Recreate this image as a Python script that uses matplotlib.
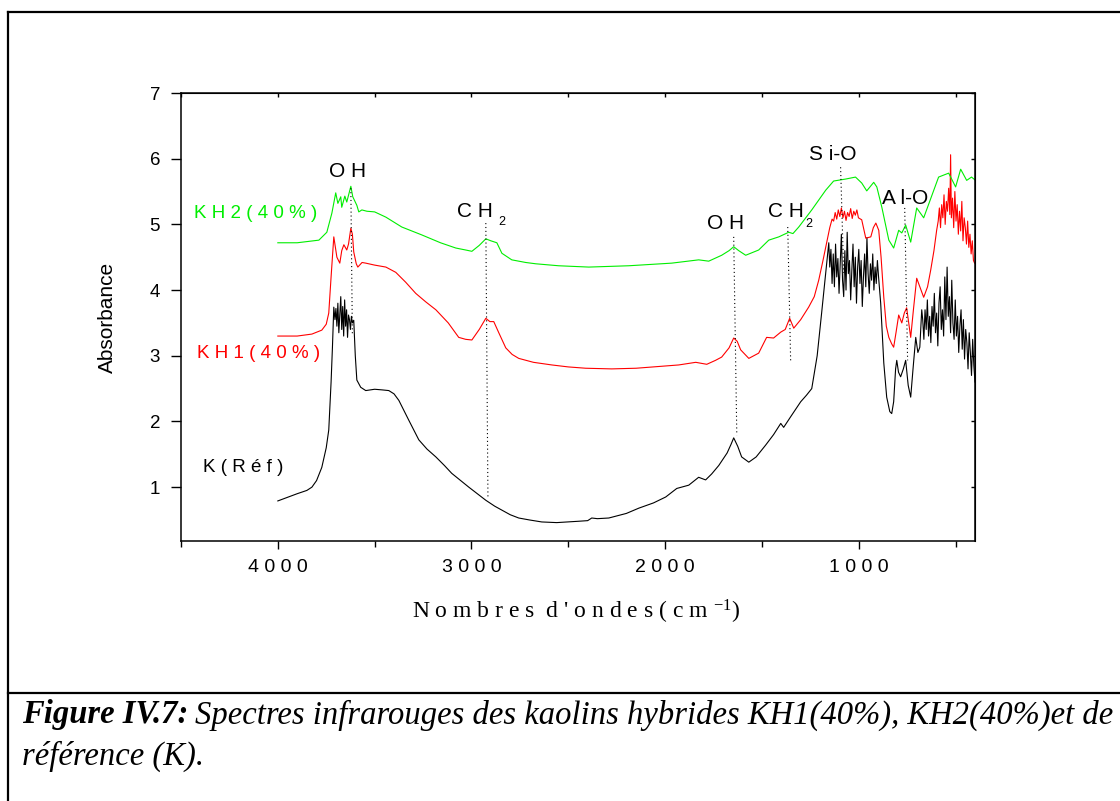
# ir_spectra_kaolin.py
# Spectres IR : K(Réf), KH1(40%), KH2(40%)
#
# valeurs (absorbance vs nombre d'onde)

import matplotlib
matplotlib.use("Agg")
import matplotlib.pyplot as plt
from matplotlib.lines import Line2D
from matplotlib.ticker import MultipleLocator


# ------------------------------------------------------------
# Fonts
# ------------------------------------------------------------

SANS = "Liberation Sans"
SERIF = "Liberation Serif"

plt.rcParams["font.family"] = [SANS, "DejaVu Sans"]
plt.rcParams["mathtext.fontset"] = "custom"
plt.rcParams["mathtext.rm"] = SERIF
plt.rcParams["mathtext.it"] = SERIF + ":italic"


# ------------------------------------------------------------
# Data : K (Réf)
# ------------------------------------------------------------

k_wn = [4000, 3900, 3850, 3824, 3800, 3773, 3750, 3737, 3725, 3718,
        3711, 3705, 3700, 3695, 3690, 3685, 3680, 3675, 3670, 3665,
        3660, 3655, 3650, 3645, 3640, 3635, 3630, 3625, 3620, 3615,
        3608, 3600, 3592, 3572, 3546, 3500, 3460, 3427, 3400, 3375,
        3324, 3272, 3230, 3184, 3140, 3102, 3060, 3014, 2970, 2926,
        2880, 2843, 2800, 2756, 2700, 2637, 2560, 2500, 2450, 2400,
        2379, 2350, 2291, 2200, 2136, 2060, 1997, 1940, 1878, 1827,
        1791, 1760, 1723, 1680, 1660, 1646, 1625, 1605, 1568, 1530,
        1481, 1440, 1403, 1388, 1350, 1300, 1270, 1243, 1215, 1192,
        1171, 1155]
k_abs = [0.79, 0.90, 0.95, 1.00, 1.10, 1.30, 1.60, 1.87, 2.60, 3.13,
         3.74, 3.55, 3.72, 3.45, 3.80, 3.35, 3.62, 3.90, 3.40, 3.75,
         3.30, 3.85, 3.45, 3.70, 3.28, 3.62, 3.55, 3.40, 3.60, 3.50,
         3.54, 3.00, 2.63, 2.52, 2.47, 2.49, 2.48, 2.47, 2.42, 2.32,
         2.02, 1.72, 1.58, 1.46, 1.33, 1.21, 1.11, 1.00, 0.90, 0.80,
         0.71, 0.65, 0.58, 0.53, 0.50, 0.47, 0.46, 0.47, 0.48, 0.49,
         0.53, 0.52, 0.53, 0.60, 0.68, 0.76, 0.85, 0.98, 1.03, 1.15,
         1.11, 1.20, 1.33, 1.52, 1.65, 1.75, 1.62, 1.46, 1.38, 1.46,
         1.64, 1.80, 1.97, 1.91, 2.08, 2.30, 2.40, 2.50, 3.00, 3.65,
         4.26, 4.72]

# bande Si-O bruitée
k_wn_sio = [1150, 1144, 1138, 1132, 1126, 1120, 1114, 1108, 1102, 1096,
            1090, 1084, 1078, 1072, 1066, 1060, 1054, 1048, 1042, 1036,
            1030, 1024, 1018, 1012, 1006, 1000, 994, 988, 982, 976,
            970, 964, 958, 952, 946, 940, 934, 928, 922, 916,
            910, 904, 898]
k_abs_sio = [4.35, 4.62, 4.10, 4.55, 4.05, 4.70, 4.20, 4.48, 3.95, 4.40,
             4.85, 4.15, 3.90, 4.60, 4.00, 4.88, 4.25, 4.45, 3.85, 4.30,
             4.70, 4.05, 4.50, 3.80, 4.35, 4.62, 4.10, 4.45, 3.75, 4.20,
             4.55, 4.05, 4.80, 4.25, 3.95, 4.40, 4.15, 4.55, 4.00, 4.35,
             4.10, 4.45, 4.20]

k_wn_alo = [887, 871, 856, 840, 830, 820, 810, 804, 795, 784,
            770, 758, 745, 732, 720, 706, 695, 685, 675]
k_abs_alo = [3.80, 2.89, 2.37, 2.15, 2.12, 2.30, 2.80, 2.93, 2.75, 2.68,
             2.80, 2.93, 2.55, 2.37, 2.80, 3.28, 3.05, 3.13, 3.70]

k_wn_low = [670, 664, 658, 652, 646, 640, 634, 628, 622, 616,
            610, 604, 598, 592, 586, 580, 574, 568, 562, 556,
            550, 544, 538, 532, 526, 520, 514, 508, 502, 496,
            490, 484, 478, 472, 466, 460, 454, 448, 442, 436,
            430, 424, 418, 412, 406, 400]
k_abs_low = [3.55, 3.25, 3.70, 3.40, 3.85, 3.30, 3.60, 3.20, 3.75, 3.45,
             3.95, 3.35, 3.65, 3.15, 3.80, 4.05, 3.40, 3.70, 3.30, 4.20,
             3.55, 4.35, 3.60, 3.90, 3.35, 4.15, 3.50, 3.25, 3.85, 3.30,
             3.60, 3.05, 3.45, 3.70, 3.10, 3.55, 2.95, 3.40, 3.20, 2.80,
             3.35, 3.05, 2.70, 3.25, 2.85, 2.60]


# ------------------------------------------------------------
# Data : KH1 (40%)
# ------------------------------------------------------------

kh1_wn = [4000, 3900, 3824, 3773, 3750, 3737, 3725, 3711, 3695, 3680,
          3670, 3659, 3644, 3635, 3623, 3615, 3608, 3595, 3587, 3565,
          3546, 3500, 3442, 3391, 3340, 3288, 3236, 3184, 3120, 3066,
          3030, 2998, 2960, 2926, 2905, 2885, 2859, 2823, 2790, 2756,
          2680, 2585, 2500, 2410, 2276, 2150, 2018, 1930, 1842, 1785,
          1740, 1708, 1670, 1646, 1628, 1610, 1568, 1517, 1476, 1440,
          1403, 1380, 1357, 1336, 1300, 1259, 1230, 1207, 1185, 1166,
          1150, 1138]
kh1_abs = [3.30, 3.30, 3.33, 3.39, 3.48, 3.65, 4.20, 4.81, 4.50, 4.41,
           4.60, 4.69, 4.61, 4.70, 4.94, 4.85, 4.58, 4.40, 4.35, 4.42,
           4.41, 4.38, 4.35, 4.27, 4.12, 3.95, 3.82, 3.70, 3.50, 3.28,
           3.25, 3.24, 3.40, 3.57, 3.52, 3.52, 3.35, 3.12, 3.02, 2.96,
           2.90, 2.86, 2.83, 2.81, 2.80, 2.81, 2.84, 2.86, 2.90, 2.87,
           2.93, 2.98, 3.12, 3.27, 3.22, 3.09, 2.96, 3.04, 3.28, 3.27,
           3.36, 3.40, 3.57, 3.42, 3.55, 3.74, 3.90, 4.15, 4.45, 4.72,
           4.95, 5.08]

kh1_wn_sio = [1130, 1122, 1114, 1106, 1098, 1090, 1082, 1074, 1066, 1058,
              1050, 1042, 1034, 1026, 1018, 1010, 1002]
kh1_abs_sio = [5.05, 5.18, 5.08, 5.22, 5.12, 5.25, 5.10, 5.20, 5.06, 5.18,
               5.12, 5.24, 5.09, 5.20, 5.14, 5.22, 5.10]

kh1_wn_alo = [985, 964, 950, 938, 925, 912, 897, 885, 871, 858,
              845, 830, 820, 808, 794, 778, 765, 753, 742, 732,
              718, 701, 685, 665, 645, 629, 612, 598]
kh1_abs_alo = [5.07, 4.79, 4.80, 4.81, 4.95, 5.02, 4.91, 4.50, 3.89, 3.45,
               3.28, 3.18, 3.13, 3.35, 3.62, 3.50, 3.65, 3.73, 3.50, 3.28,
               3.70, 4.18, 4.05, 3.89, 4.05, 4.30, 4.60, 4.91]

kh1_wn_low = [590, 584, 578, 572, 566, 560, 554, 548, 542, 536,
              530, 526, 522, 516, 510, 504, 498, 492, 486, 480,
              474, 468, 462, 456, 450, 444, 438, 432, 426, 420,
              414, 408, 402]
kh1_abs_low = [5.05, 5.25, 4.95, 5.30, 5.10, 5.45, 5.00, 5.35, 5.20, 5.55,
               5.15, 6.06, 5.10, 5.40, 4.95, 5.50, 5.05, 5.30, 4.85, 5.20,
               4.90, 5.35, 4.75, 5.10, 4.95, 4.70, 5.05, 4.65, 4.85, 4.55,
               4.75, 4.45, 4.41]


# ------------------------------------------------------------
# Data : KH2 (40%)
# ------------------------------------------------------------

kh2_wn = [4000, 3900, 3788, 3747, 3721, 3701, 3690, 3675, 3670, 3654,
          3644, 3623, 3613, 3592, 3582, 3566, 3540, 3500, 3442, 3360,
          3257, 3160, 3081, 3030, 2998, 2960, 2926, 2900, 2869, 2843,
          2792, 2720, 2668, 2550, 2394, 2188, 1966, 1827, 1775, 1708,
          1670, 1646, 1620, 1584, 1517, 1465, 1413, 1362, 1340, 1310,
          1243, 1171, 1130, 1068, 1017, 985, 959, 923, 907, 881,
          845, 820, 794, 778, 758, 732, 701, 665, 588, 536,
          500, 474, 443, 418, 397]
kh2_abs = [4.72, 4.72, 4.76, 4.88, 5.17, 5.48, 5.32, 5.42, 5.26, 5.43,
           5.34, 5.58, 5.42, 5.29, 5.19, 5.22, 5.20, 5.19, 5.11, 4.96,
           4.84, 4.72, 4.64, 4.61, 4.59, 4.68, 4.78, 4.75, 4.72, 4.56,
           4.46, 4.42, 4.40, 4.37, 4.35, 4.37, 4.41, 4.46, 4.44, 4.53,
           4.60, 4.66, 4.60, 4.53, 4.61, 4.76, 4.81, 4.88, 4.86, 4.96,
           5.22, 5.52, 5.66, 5.69, 5.72, 5.63, 5.51, 5.64, 5.57, 5.26,
           4.76, 4.64, 4.91, 4.87, 4.99, 4.73, 5.25, 5.10, 5.72, 5.78,
           5.57, 5.84, 5.67, 5.72, 5.67]


# ------------------------------------------------------------
# Band markers (dotted lines) : wn top, abs top, wn bottom, abs bottom
# ------------------------------------------------------------

band_names = ["OH", "CH2", "OH", "CH2", "Si-O", "Al-O"]
band_wn_top = [3623, 2926, 1646, 1367, 1094, 763]
band_abs_top = [5.55, 5.02, 4.81, 4.96, 5.87, 5.25]
band_wn_bot = [3615, 2915, 1630, 1352, 1078, 748]
band_abs_bot = [3.30, 0.83, 1.79, 2.93, 4.26, 2.93]


# ------------------------------------------------------------
# Figure
# ------------------------------------------------------------

W, H = 1120, 801
fig = plt.figure(figsize=(W / 100, H / 100), dpi=100)
fig.patch.set_facecolor("white")


def fx(px):
    return px / W


def fy(py):
    return 1 - py / H


# cadre autour de la figure
frame_kw = dict(color="black", linewidth=1.6, transform=fig.transFigure)
fig.add_artist(Line2D([fx(8), fx(8)], [fy(12), 0], **frame_kw))
fig.add_artist(Line2D([fx(8), 1], [fy(12), fy(12)], **frame_kw))
fig.add_artist(Line2D([fx(8), 1], [fy(693), fy(693)], **frame_kw))

ax = fig.add_axes([fx(181), fy(541), fx(975) - fx(181), fy(93) - fy(541)])

k_x = k_wn + k_wn_sio + k_wn_alo + k_wn_low
k_y = k_abs + k_abs_sio + k_abs_alo + k_abs_low
kh1_x = kh1_wn + kh1_wn_sio + kh1_wn_alo + kh1_wn_low
kh1_y = kh1_abs + kh1_abs_sio + kh1_abs_alo + kh1_abs_low

ax.plot(k_x, k_y, color="black", linewidth=0.8)
ax.plot(kh1_x, kh1_y, color="#ff0000", linewidth=0.8)
ax.plot(kh2_wn, kh2_abs, color="#00ee00", linewidth=0.8)

for i in range(len(band_names)):
    ax.plot([band_wn_top[i], band_wn_bot[i]],
            [band_abs_top[i], band_abs_bot[i]],
            color="black", linewidth=0.8, linestyle=(0, (1, 2.5)))

ax.set_xlim(4500, 400)
ax.set_ylim(0.18, 7)

ax.xaxis.set_minor_locator(MultipleLocator(500))
ax.set_xticks([4000, 3000, 2000, 1000])
ax.set_xticklabels(["4 0 0 0", "3 0 0 0", "2 0 0 0", "1 0 0 0"])
ax.set_yticks([1, 2, 3, 4, 5, 6, 7])

for side in ["left", "right", "top", "bottom"]:
    ax.spines[side].set_linewidth(1.1)

ax.tick_params(axis="x", which="major", direction="out", length=6,
               width=1.0, pad=7, labelsize=14, top=False)
ax.tick_params(axis="x", which="minor", direction="out", length=4,
               width=1.0, top=False)
ax.tick_params(axis="y", which="major", direction="out", length=7,
               width=1.0, pad=8, labelsize=13.5, right=False)

# ticks intérieurs en haut et à droite
ax_top = ax.secondary_xaxis("top")
ax_top.xaxis.set_major_locator(MultipleLocator(1000))
ax_top.xaxis.set_minor_locator(MultipleLocator(500))
ax_top.tick_params(which="both", direction="in", length=3, width=1.0,
                   labeltop=False)
ax_right = ax.secondary_yaxis("right")
ax_right.yaxis.set_major_locator(MultipleLocator(1))
ax_right.tick_params(which="both", direction="in", length=3, width=1.0,
                     labelright=False)


# ------------------------------------------------------------
# Labels
# ------------------------------------------------------------

fig.text(fx(107), fy(317), "Absorbance", rotation=90, fontsize=15,
         ha="center", va="center", family=SANS)

fig.text(fx(576), fy(612), "N o m b r e s  d ' o n d e s ( c m $^{-1}$)",
         fontsize=17, ha="center", va="center", family=SERIF)

lab_kw = dict(fontsize=15, ha="center", va="center", family=SANS)
ax.text(3639, 5.80, "O H", **lab_kw)
ax.text(2983, 5.19, "C H", **lab_kw)
ax.text(2841, 5.03, "2", fontsize=9, ha="center", va="center", family=SANS)
ax.text(1687, 5.02, "O H", **lab_kw)
ax.text(1375, 5.19, "C H", **lab_kw)
ax.text(1259, 5.00, "2", fontsize=9, ha="center", va="center", family=SANS)
ax.text(1134, 6.07, "S i-O", **lab_kw)
ax.text(763, 5.40, "A l-O", **lab_kw)

ser_kw = dict(fontsize=13.5, ha="left", va="center", family=SANS)
ax.text(4434, 5.16, "K H 2 ( 4 0 % )", color="#00ee00", **ser_kw)
ax.text(4418, 3.04, "K H 1 ( 4 0 % )", color="#ff0000", **ser_kw)
ax.text(4387, 1.30, "K ( R é f )", color="black", **ser_kw)


# ------------------------------------------------------------
# Caption
# ------------------------------------------------------------

cap_size = 23.5
cap_head = fig.text(fx(22), fy(715), "Figure IV.7:", fontsize=cap_size,
                    fontweight="bold", fontstyle="italic", family=SERIF,
                    ha="left", va="center")

fig.canvas.draw()
head_box = cap_head.get_window_extent(fig.canvas.get_renderer())

fig.text((head_box.x1 + 7) / W, fy(715),
         "Spectres infrarouges des kaolins hybrides KH1(40%), KH2(40%)et de",
         fontsize=cap_size, fontstyle="italic", family=SERIF,
         ha="left", va="center")
fig.text(fx(22), fy(756), "référence (K).", fontsize=cap_size,
         fontstyle="italic", family=SERIF, ha="left", va="center")

fig.savefig("out.png", dpi=100)
